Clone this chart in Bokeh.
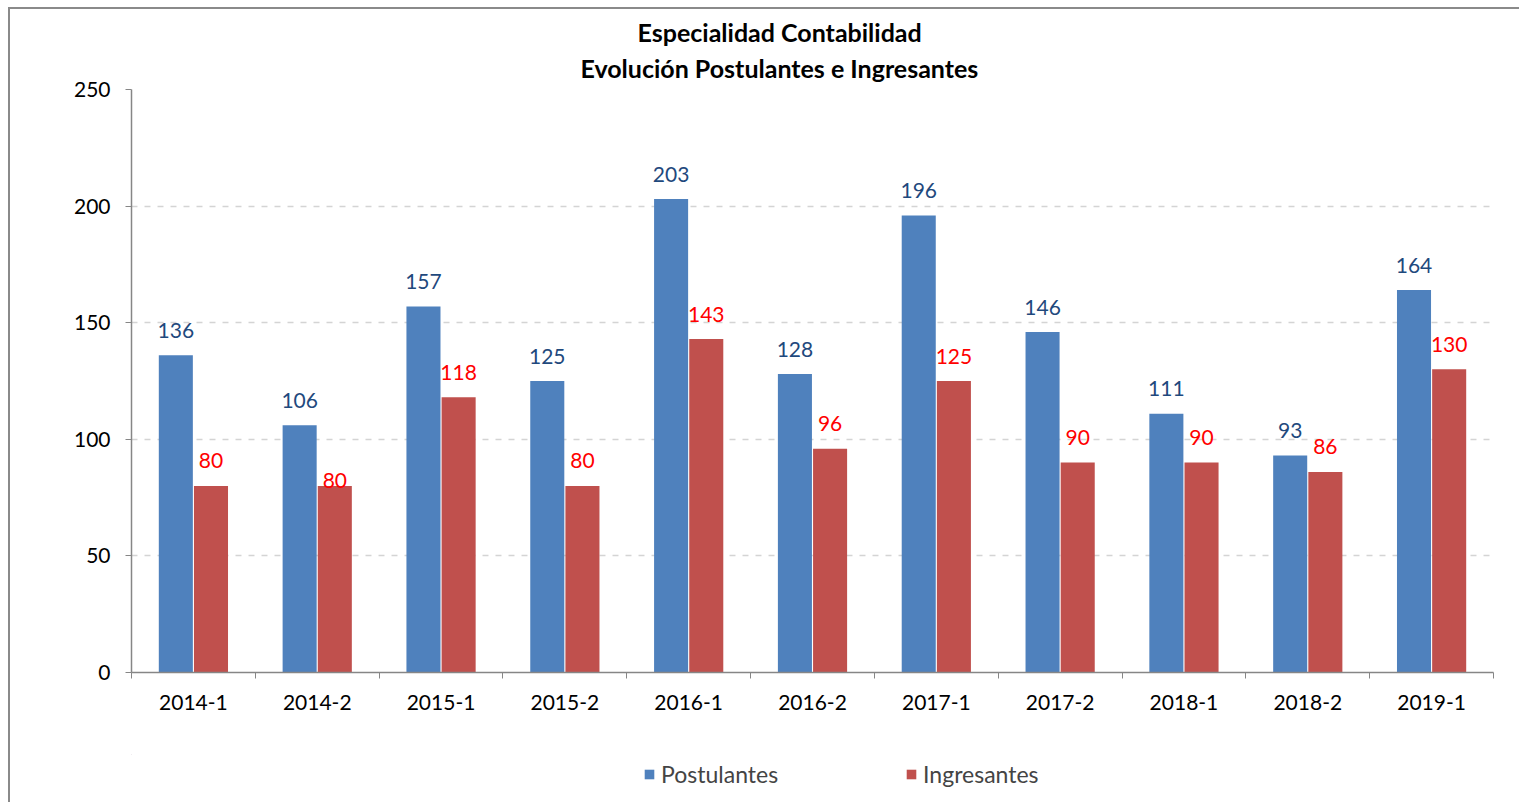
from bokeh.plotting import figure
from bokeh.models import (ColumnDataSource, Range1d, FixedTicker, Title, Legend, LegendItem, Column)
from bokeh.core.properties import value
from bokeh.embed import file_html
from bokeh.resources import INLINE

categories = ["2014-1", "2014-2", "2015-1", "2015-2", "2016-1", "2016-2",
              "2017-1", "2017-2", "2018-1", "2018-2", "2019-1"]
postulantes = [136, 106, 157, 125, 203, 128, 196, 146, 111, 93, 164]
ingresantes = [80, 80, 118, 80, 143, 96, 125, 90, 90, 86, 130]
y_ticks = [0, 50, 100, 150, 200, 250]
series_names = ["Postulantes", "Ingresantes"]

FONT = "Lato"
BLUE = "#4F81BD"
RED = "#C0504D"

n = len(categories)
idx = list(range(n))
# per-label vertical shift (px) of data labels (one Excel label was moved by hand)
ing_label_shift = [-25] * n
ing_label_shift[1] = -5

src_p = ColumnDataSource(dict(x=[i + 0.358 for i in idx], top=postulantes,
                              txt=[str(v) for v in postulantes]))
src_i = ColumnDataSource(dict(x=[i + 0.642 for i in idx], top=ingresantes,
                              txt=[str(v) for v in ingresantes], dy=ing_label_shift))

W = 1509
H_MAIN = 745
H_LEG = 48

p = figure(width=W, height=H_MAIN, output_backend="svg", toolbar_location=None,
           title=None,
           x_range=Range1d(0, n), y_range=Range1d(0, 250),
           min_border_left=121, min_border_right=26, min_border_top=80,
           min_border_bottom=H_MAIN - 80 - 583)
p.outline_line_color = None
p.background_fill_color = "white"
p.border_fill_color = "white"

rb = p.vbar(x="x", top="top", width=0.275, bottom=0, source=src_p,
            fill_color=BLUE, line_color=None)
rr = p.vbar(x="x", top="top", width=0.275, bottom=0, source=src_i,
            fill_color=RED, line_color=None)

p.text(x="x", y="top", text="txt", source=src_p, text_align="center",
       text_baseline="middle", y_offset=-25, text_color="#1F497D",
       text_font=value(FONT), text_font_size="21px")
p.text(x="x", y="top", text="txt", source=src_i, text_align="center",
       text_baseline="middle", y_offset="dy", text_color="#FF0000",
       text_font=value(FONT), text_font_size="21px")

# axes
xax = p.xaxis[0]
xax.ticker = FixedTicker(ticks=[i + 0.5 for i in idx], minor_ticks=list(range(n + 1)))
xax.major_label_overrides = {i + 0.5: c for i, c in enumerate(categories)}
xax.major_tick_line_color = None
xax.minor_tick_line_color = "#868686"
xax.minor_tick_out = 6
xax.minor_tick_in = 0
xax.axis_line_color = "#868686"
xax.axis_line_width = 1.5
xax.major_label_text_font = FONT
xax.major_label_text_font_size = "21px"
xax.major_label_text_color = "#000000"
xax.major_label_standoff = 16

yax = p.yaxis[0]
yax.ticker = FixedTicker(ticks=y_ticks)
yax.major_tick_line_color = "#868686"
yax.major_tick_out = 6
yax.major_tick_in = 0
yax.minor_tick_line_color = None
yax.axis_line_color = "#868686"
yax.axis_line_width = 1.5
yax.major_label_text_font = FONT
yax.major_label_text_font_size = "21px"
yax.major_label_text_color = "#000000"
yax.major_label_standoff = 15

p.xgrid.grid_line_color = None
p.ygrid.grid_line_color = "#d4d4d4"
p.ygrid.grid_line_dash = "6 7"
p.ygrid.grid_line_width = 1.5

# titles (first added sits closest to the plot)
for txt, so, off in [("Evolución Postulantes e Ingresantes", 14, 449),
                     ("Especialidad Contabilidad", -7, 506)]:
    p.add_layout(Title(text=txt, align="left", offset=off, text_font=FONT,
                       text_font_size="25px", text_font_style="bold",
                       text_line_height=1.0,
                       text_color="#000000", standoff=so), "above")

# legend strip below the chart
lg = figure(width=W, height=H_LEG, output_backend="svg", toolbar_location=None,
            x_range=Range1d(0, 10), y_range=Range1d(0, 10),
            x_axis_type=None, y_axis_type=None, min_border=0)
lg.outline_line_color = None
lg.grid.grid_line_color = None
lb = lg.vbar(x=[-100], bottom=[50], top=[51], width=1, fill_color=BLUE, line_color=None)
lr = lg.vbar(x=[-100], bottom=[50], top=[51], width=1, fill_color=RED, line_color=None)
legend = Legend(items=[LegendItem(label=series_names[0], renderers=[lb]),
                       LegendItem(label=series_names[1], renderers=[lr])],
                orientation="horizontal", location=(512, 14),
                glyph_width=12, glyph_height=12, label_standoff=6, spacing=127,
                padding=0, margin=0, border_line_color=None,
                background_fill_alpha=0, label_text_font=FONT,
                label_text_font_size="23px", label_height=20)
lg.add_layout(legend)

layout = Column(children=[p, lg], spacing=0,
                styles={"border-left": "2px solid #8a8a8a", "border-top": "2px solid #8a8a8a",
                        "margin-left": "8px", "margin-top": "7px"})

open("out.html", "w").write(file_html(layout, INLINE))
